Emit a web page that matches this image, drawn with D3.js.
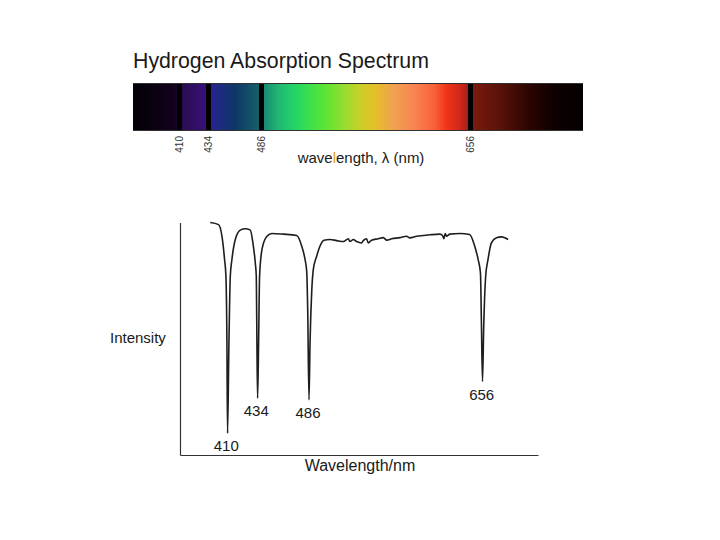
<!DOCTYPE html>
<html>
<head>
<meta charset="utf-8">
<script src="https://cdn.jsdelivr.net/npm/d3@7"></script>
<style>
  html, body { margin: 0; padding: 0; background: #fff; }
  svg { display: block; font-family: "Liberation Sans", Arial, sans-serif; }
</style>
</head>
<body>
<svg id="chart" width="720" height="540"></svg>
<script>
// ---------- data ----------
const peaks = [410, 434, 486, 656];
const peakLabels = ["410", "434", "486", "656"];

const spectrumStops = [370, 405, 409, 412, 432, 436, 460, 484, 488, 500, 512.8, 525, 541, 553.5, 566, 578, 594, 610.5, 626.8, 636.5, 647, 653.6, 658, 680, 705, 725, 750];
const spectrumColors = ["#020006", "#12021c", "#1a0630", "#2a0c4e", "#38107a", "#2a2290", "#0c3866", "#17606a", "#1a8a76", "#20b870", "#22d468", "#3ae04c", "#66e430", "#98dc30", "#c8d028", "#e4c028", "#f0a050", "#f88452", "#f86038", "#f03418", "#d02818", "#a82016", "#7c1a0e", "#5a1208", "#2c0502", "#0e0000", "#050000"];

const wavelengths = [396.3,403.0,405.7,407.8,408.9,409.7,410.2,411.3,412.4,413.7,416.4,420.4,424.4,428.4,430.5,432.4,433.2,433.7,434.3,435.3,436.3,438.7,443.7,448.7,460.3,473.7,478.7,482.0,483.7,484.7,486.0,487.0,488.6,490.2,493.5,496.7,500.7,506.5,513.1,519.6,524.5,526.1,529.4,532.6,537.5,539.1,542.4,544.0,547.3,553.8,558.7,562.0,566.9,575.0,581.5,584.8,591.3,597.8,604.3,614.1,616.7,618.0,619.3,620.6,623.9,633.6,643.3,647.2,651.5,653.8,654.8,655.8,657.0,658.9,661.2,664.5,669.4,674.3,680.8];
const intensity = [100,99.1,94.1,84.1,76.9,48.1,9.3,48.1,76.9,84.1,92.7,96.7,97.3,96.7,91.2,82.6,76.9,48.1,24.4,48.1,76.9,88.4,94.1,95.3,95.0,94.4,89.8,84.1,79.0,62.5,23.7,48.1,69.7,79.7,85.5,89.8,92.4,92.7,92.2,91.8,93.0,91.8,92.7,91.8,91.2,92.2,93.0,91.2,92.4,93.0,93.5,92.4,93.0,93.5,94.1,93.4,94.1,94.4,94.7,95.0,94.4,93.0,95.3,94.1,95.0,95.3,94.8,91.2,84.1,78.3,55.3,31.6,55.3,76.9,84.1,91.2,93.4,93.8,92.7];

const titleText = "Hydrogen Absorption Spectrum";
const xAxisTitle = "Wavelength/nm";
const yAxisTitle = "Intensity";

// ---------- spectrum strip ----------
const svg = d3.select("#chart");

const sx = d3.scaleLinear()
  .domain([370, ...peaks, 750])
  .range([133, 179.5, 208.5, 261.5, 470.5, 583]);
const barTop = 83, barBottom = 131;

svg.append("text")
  .attr("x", 133).attr("y", 68)
  .attr("font-size", 21.3).attr("fill", "#1a1a1a")
  .text(titleText);

const defs = svg.append("defs");
const grad = defs.append("linearGradient")
  .attr("id", "spec")
  .attr("gradientUnits", "userSpaceOnUse")
  .attr("x1", sx.range()[0]).attr("x2", sx.range()[sx.range().length - 1])
  .attr("y1", 0).attr("y2", 0);
const span = sx(750) - sx(370);
grad.selectAll("stop")
  .data(spectrumStops)
  .join("stop")
  .attr("offset", d => (sx(d) - sx(370)) / span)
  .attr("stop-color", (d, i) => spectrumColors[i]);

svg.append("rect")
  .attr("x", sx(370)).attr("y", barTop)
  .attr("width", span).attr("height", barBottom - barTop)
  .attr("fill", "url(#spec)");

svg.selectAll("rect.line")
  .data(peaks)
  .join("rect")
  .attr("class", "line")
  .attr("x", d => sx(d) - 2.5).attr("y", barTop)
  .attr("width", 5).attr("height", barBottom - barTop)
  .attr("fill", "#000");

svg.append("line")
  .attr("x1", sx(370)).attr("x2", sx(750))
  .attr("y1", barTop + 0.5).attr("y2", barTop + 0.5)
  .attr("stroke", "#333").attr("stroke-width", 1);
svg.append("line")
  .attr("x1", sx(370)).attr("x2", sx(750))
  .attr("y1", barBottom - 0.5).attr("y2", barBottom - 0.5)
  .attr("stroke", "#333").attr("stroke-width", 1);

svg.selectAll("text.tick")
  .data(peaks)
  .join("text")
  .attr("class", "tick")
  .attr("transform", d => `translate(${sx(d)},${barTop + 53}) rotate(-90)`)
  .attr("text-anchor", "end")
  .attr("dominant-baseline", "central")
  .attr("font-size", 10).attr("fill", "#333")
  .text((d, i) => peakLabels[i]);

const wl = svg.append("text")
  .attr("x", 361).attr("y", 163)
  .attr("text-anchor", "middle")
  .attr("font-size", 15).attr("fill", "#1a1a1a");
wl.append("tspan").text("wave");
wl.append("tspan").attr("fill", "#e0a020").text("l");
wl.append("tspan").text("ength, λ (nm)");

// ---------- intensity plot ----------
const cx = d3.scaleLinear()
  .domain([372, ...peaks, 710])
  .range([180, 227.3, 257.3, 309, 482.7, 538]);
const cy = d3.scaleLinear().domain([0, 100]).range([455, 222.5]);

svg.append("g")
  .attr("transform", `translate(${cx(372)},0)`)
  .call(d3.axisLeft(cy).ticks(0).tickSizeOuter(0))
  .call(g => g.select(".domain").attr("stroke", "#333").attr("stroke-width", 1.2));
svg.append("g")
  .attr("transform", `translate(0,${cy(0)})`)
  .call(d3.axisBottom(cx).ticks(0).tickSizeOuter(0))
  .call(g => g.select(".domain").attr("stroke", "#333").attr("stroke-width", 1.2));

const pts = wavelengths.map((w, i) => [w, intensity[i]]);
svg.append("path")
  .datum(pts)
  .attr("fill", "none")
  .attr("stroke", "#1e1e1e")
  .attr("stroke-width", 1.6)
  .attr("stroke-linejoin", "round")
  .attr("d", d3.line().x(d => cx(d[0])).y(d => cy(d[1])).curve(d3.curveMonotoneX));

svg.selectAll("text.peak")
  .data(peaks)
  .join("text")
  .attr("class", "peak")
  .attr("x", d => cx(d) - 1)
  .attr("y", d => cy(d3.min(pts.filter(p => Math.abs(p[0] - d) < 3), p => p[1])) + 18)
  .attr("text-anchor", "middle")
  .attr("font-size", 15).attr("fill", "#1a1a1a")
  .text((d, i) => peakLabels[i]);

svg.append("text")
  .attr("x", 360).attr("y", 471)
  .attr("text-anchor", "middle")
  .attr("font-size", 16).attr("fill", "#1a1a1a")
  .text(xAxisTitle);

svg.append("text")
  .attr("x", 110).attr("y", 343)
  .attr("font-size", 15).attr("fill", "#1a1a1a")
  .text(yAxisTitle);
</script>
</body>
</html>
